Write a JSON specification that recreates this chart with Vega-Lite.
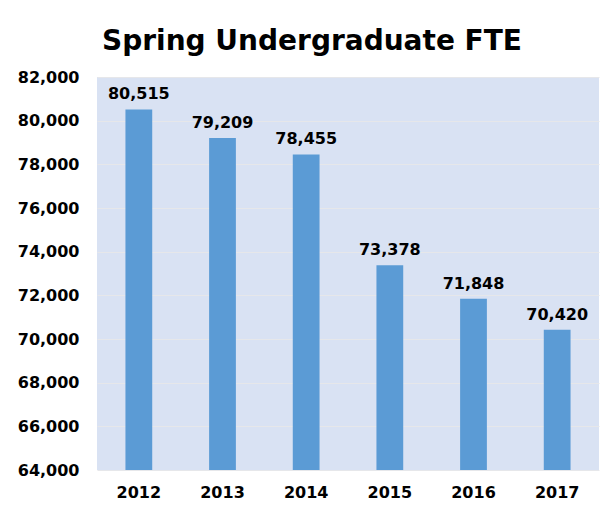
{
  "$schema": "https://vega.github.io/schema/vega-lite/v6.json",
  "autosize": {"type": "none"},
  "width": 502,
  "height": 393,
  "padding": {"left": 97, "top": 77, "right": 14, "bottom": 42},
  "background": "white",
  "title": {
    "text": "Spring Undergraduate FTE",
    "font": "DejaVu Sans",
    "fontSize": 28,
    "fontWeight": "bold",
    "color": "black",
    "anchor": "middle",
    "frame": "group",
    "dx": -36,
    "offset": 13
  },
  "data": {
    "values": [
      {"year": "2012", "fte": 80515},
      {"year": "2013", "fte": 79209},
      {"year": "2014", "fte": 78455},
      {"year": "2015", "fte": 73378},
      {"year": "2016", "fte": 71848},
      {"year": "2017", "fte": 70420}
    ]
  },
  "encoding": {
    "x": {
      "field": "year",
      "type": "ordinal",
      "scale": {"paddingInner": 0.68, "paddingOuter": 0.34},
      "axis": {
        "title": null,
        "labelAngle": 0,
        "labelFont": "DejaVu Sans",
        "labelFontSize": 16,
        "labelFontWeight": "bold",
        "labelColor": "black",
        "labelPadding": 14,
        "domain": false,
        "ticks": false
      }
    },
    "y": {
      "field": "fte",
      "type": "quantitative",
      "scale": {"domain": [64000, 82000], "zero": false, "nice": false},
      "axis": {
        "title": null,
        "values": [64000, 66000, 68000, 70000, 72000, 74000, 76000, 78000, 80000, 82000],
        "format": ",d",
        "labelFont": "DejaVu Sans",
        "labelFontSize": 16,
        "labelFontWeight": "bold",
        "labelColor": "black",
        "labelPadding": 18,
        "domain": false,
        "ticks": false,
        "grid": true,
        "gridColor": "#e6e7ea",
        "gridWidth": 1
      }
    }
  },
  "layer": [
    {
      "mark": {"type": "bar", "color": "#5B9BD5"},
      "encoding": {"y2": {"datum": 64000}}
    },
    {
      "mark": {
        "type": "text",
        "dy": -15,
        "font": "DejaVu Sans",
        "fontSize": 16,
        "fontWeight": "bold",
        "color": "black"
      },
      "encoding": {"text": {"field": "fte", "type": "quantitative", "format": ",d"}}
    }
  ],
  "config": {
    "view": {"fill": "#D9E2F3", "stroke": null}
  }
}
